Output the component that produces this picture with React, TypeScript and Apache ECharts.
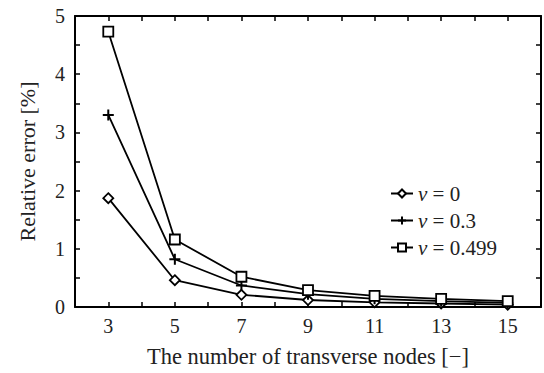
import React, { useEffect, useRef } from "react";
import * as echarts from "echarts";

const nodes = [3, 5, 7, 9, 11, 13, 15];
const nu0 = [1.87, 0.46, 0.21, 0.12, 0.08, 0.06, 0.04];
const nu03 = [3.3, 0.82, 0.37, 0.22, 0.14, 0.1, 0.07];
const nu0499 = [4.73, 1.16, 0.52, 0.29, 0.19, 0.14, 0.1];
const seriesNames = ["ν = 0", "ν = 0.3", "ν = 0.499"];
const yTicks = [0, 1, 2, 3, 4, 5];

const FONT = "Liberation Serif";
const PLUS = "path://M0,5 L10,5 M5,0 L5,10";

export default function App() {
  const ref = useRef<HTMLDivElement>(null);
  useEffect(() => {
    if (!ref.current) return;
    const chart = echarts.init(ref.current, undefined, { renderer: "svg" });
    const mk = (name: string, vals: number[], symbol: string, size: number) => ({
      type: "line",
      name,
      data: nodes.map((n, i) => [n, vals[i]]),
      symbol,
      symbolSize: size,
      showAllSymbol: true,
      lineStyle: { color: "#000", width: 1.8 },
      itemStyle: { color: "#fff", borderColor: "#000", borderWidth: 1.8 },
      emphasis: { disabled: true },
    });
    const axisCommon = {
      axisLine: { show: true, onZero: false, lineStyle: { color: "#000", width: 2 } },
      axisTick: { show: true, inside: true, length: 5, lineStyle: { color: "#000", width: 1.5 } },
      splitLine: { show: false },
    };
    chart.setOption({
      animation: false,
      backgroundColor: "#fff",
      textStyle: { fontFamily: FONT },
      grid: { left: 75, top: 16, right: -2, bottom: 66 },
      legend: {
        orient: "vertical",
        left: 385,
        top: 178,
        itemWidth: 22,
        itemHeight: 10,
        itemGap: 6,
        data: seriesNames,
        textStyle: {
          fontFamily: FONT,
          fontSize: 21,
          color: "#222",
          rich: {
            i: { fontFamily: FONT, fontStyle: "italic", fontSize: 21, color: "#222" },
            t: { fontFamily: FONT, fontSize: 21, color: "#222" },
          },
        },
        formatter: (name: string) => {
          const rest = name.slice(1);
          return "{i|ν}{t|" + rest + "}";
        },
      },
      xAxis: [
        {
          type: "value",
          min: 2,
          max: 16,
          interval: 1,
          position: "bottom",
          name: "The number of transverse nodes [−]",
          nameLocation: "middle",
          nameGap: 38,
          nameTextStyle: { fontFamily: FONT, fontSize: 22.5, color: "#222" },
          axisLabel: {
            fontFamily: FONT,
            fontSize: 20,
            color: "#222",
            margin: 9,
            formatter: (v: number) => (v % 2 === 1 && v >= 3 && v <= 15 ? String(v) : ""),
          },
          ...axisCommon,
        },
        {
          type: "value",
          min: 2,
          max: 16,
          interval: 1,
          position: "top",
          axisLabel: { show: false },
          ...axisCommon,
        },
      ],
      yAxis: [
        {
          type: "value",
          min: yTicks[0],
          max: yTicks[yTicks.length - 1],
          interval: 1,
          position: "left",
          name: "Relative error [%]",
          nameLocation: "middle",
          nameGap: 37,
          nameTextStyle: { fontFamily: FONT, fontSize: 22, color: "#222" },
          axisLabel: { fontFamily: FONT, fontSize: 20, color: "#222", margin: 10 },
          minorTick: { show: true, splitNumber: 2, length: 5, lineStyle: { color: "#000", width: 1.5 } },
          ...axisCommon,
        },
        {
          type: "value",
          min: yTicks[0],
          max: yTicks[yTicks.length - 1],
          interval: 1,
          position: "right",
          axisLabel: { show: false },
          minorTick: { show: true, splitNumber: 2, length: 5, lineStyle: { color: "#000", width: 1.5 } },
          ...axisCommon,
        },
      ],
      series: [
        mk(seriesNames[0], nu0, "diamond", 10),
        { ...mk(seriesNames[1], nu03, PLUS, 11), itemStyle: { color: "none", borderColor: "#000", borderWidth: 2 } },
        mk(seriesNames[2], nu0499, "rect", 10),
      ],
    });
    return () => chart.dispose();
  }, []);
  return <div ref={ref} style={{ width: 544, height: 373, position: "absolute", left: 0, top: 0 }} />;
}
